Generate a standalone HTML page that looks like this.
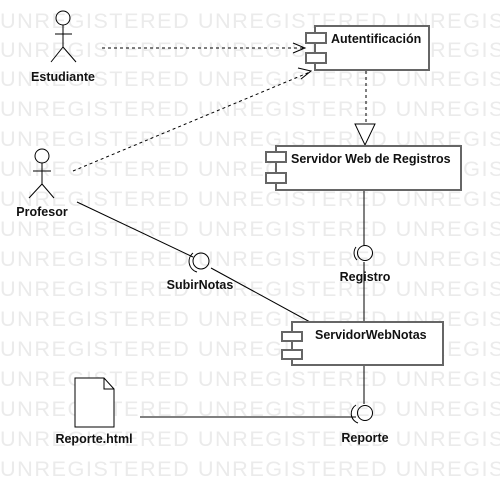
<!DOCTYPE html>
<html><head><meta charset="utf-8"><style>
html,body{margin:0;padding:0;background:#fff;}
svg{display:block;}
.wm{font-family:"Liberation Sans",sans-serif;font-size:21.7px;fill:#ebebeb;letter-spacing:1.5px;}
.t{font-family:"Liberation Sans",sans-serif;font-size:12.5px;font-weight:bold;fill:#111;}
</style></head><body>
<svg width="500" height="492" viewBox="0 0 500 492" xmlns="http://www.w3.org/2000/svg">
<g class="wm">
<text x="0" y="28">UNREGISTERED UNREGISTERED UNREGISTERED</text>
<text x="0" y="57">UNREGISTERED UNREGISTERED UNREGISTERED</text>
<text x="0" y="86">UNREGISTERED UNREGISTERED UNREGISTERED</text>
<text x="0" y="116">UNREGISTERED UNREGISTERED UNREGISTERED</text>
<text x="0" y="146">UNREGISTERED UNREGISTERED UNREGISTERED</text>
<text x="0" y="176">UNREGISTERED UNREGISTERED UNREGISTERED</text>
<text x="0" y="206">UNREGISTERED UNREGISTERED UNREGISTERED</text>
<text x="0" y="236">UNREGISTERED UNREGISTERED UNREGISTERED</text>
<text x="0" y="266">UNREGISTERED UNREGISTERED UNREGISTERED</text>
<text x="0" y="296">UNREGISTERED UNREGISTERED UNREGISTERED</text>
<text x="0" y="326">UNREGISTERED UNREGISTERED UNREGISTERED</text>
<text x="0" y="356">UNREGISTERED UNREGISTERED UNREGISTERED</text>
<text x="0" y="386">UNREGISTERED UNREGISTERED UNREGISTERED</text>
<text x="0" y="416">UNREGISTERED UNREGISTERED UNREGISTERED</text>
<text x="0" y="446">UNREGISTERED UNREGISTERED UNREGISTERED</text>
<text x="0" y="476">UNREGISTERED UNREGISTERED UNREGISTERED</text>
</g>
<g stroke="#000" stroke-width="1" fill="none">
<circle cx="63" cy="18" r="7"/>
<line x1="63" y1="25" x2="63" y2="47"/><line x1="55" y1="34" x2="72" y2="34"/>
<line x1="63" y1="47" x2="51" y2="62"/><line x1="63" y1="47" x2="76" y2="62"/>
<circle cx="42" cy="156" r="7"/>
<line x1="42" y1="163" x2="42" y2="184"/><line x1="33" y1="171" x2="51" y2="171"/>
<line x1="42" y1="184" x2="29" y2="198"/><line x1="42" y1="184" x2="54" y2="198"/>
</g>
<g stroke="#000" stroke-width="1" fill="none" stroke-dasharray="3,3">
<line x1="102" y1="48" x2="304" y2="48"/>
<line x1="73" y1="171" x2="310" y2="72"/>
<line x1="366" y1="71" x2="366" y2="124"/>
</g>
<g stroke="#000" stroke-width="1" fill="none">
<polyline points="293,43 305,48 293,53"/>
<polyline points="298,68 311,71 301,79"/>
<polygon points="355,124 375,124 365,145" fill="#fff"/>
<line x1="77" y1="202" x2="193" y2="257"/>
<line x1="211" y1="268" x2="310" y2="322"/>
<line x1="364" y1="190" x2="364" y2="245"/>
<line x1="364" y1="262" x2="364" y2="322"/>
<line x1="364" y1="365" x2="364" y2="404"/>
<line x1="140" y1="417" x2="356" y2="417"/>
<circle cx="201" cy="261" r="8"/><path d="M193,253 A11,11 0 0 0 197,272"/>
<circle cx="365" cy="253" r="7.5"/><path d="M356,247 A10,10 0 0 0 357,260"/>
<circle cx="365" cy="413" r="7.5"/><path d="M356,405 A10,10 0 0 0 358,423"/>
<path d="M75,378 H104 L114,389 V427 H75 Z" fill="#fff"/><path d="M104,378 V389 H114"/>
</g>
<g stroke="#666" stroke-width="2" fill="#fff">
<rect x="315" y="26" width="114" height="44"/>
<rect x="306" y="33" width="20" height="10"/><rect x="306" y="53" width="20" height="10"/>
<rect x="276" y="146" width="185" height="44"/>
<rect x="266" y="152" width="20" height="10"/><rect x="266" y="173" width="20" height="10"/>
<rect x="292" y="322" width="151" height="43"/>
<rect x="282" y="332" width="20" height="9"/><rect x="282" y="350" width="20" height="9"/>
</g>
<g class="t">
<text x="331" y="43">Autentificación</text>
<text x="291" y="163">Servidor Web de Registros</text>
<text x="315" y="339">ServidorWebNotas</text>
<text x="63" y="81" text-anchor="middle">Estudiante</text>
<text x="42" y="216" text-anchor="middle">Profesor</text>
<text x="200" y="289" text-anchor="middle">SubirNotas</text>
<text x="365" y="281" text-anchor="middle">Registro</text>
<text x="365" y="442" text-anchor="middle">Reporte</text>
<text x="94" y="443" text-anchor="middle">Reporte.html</text>
</g>
</svg>
</body></html>
